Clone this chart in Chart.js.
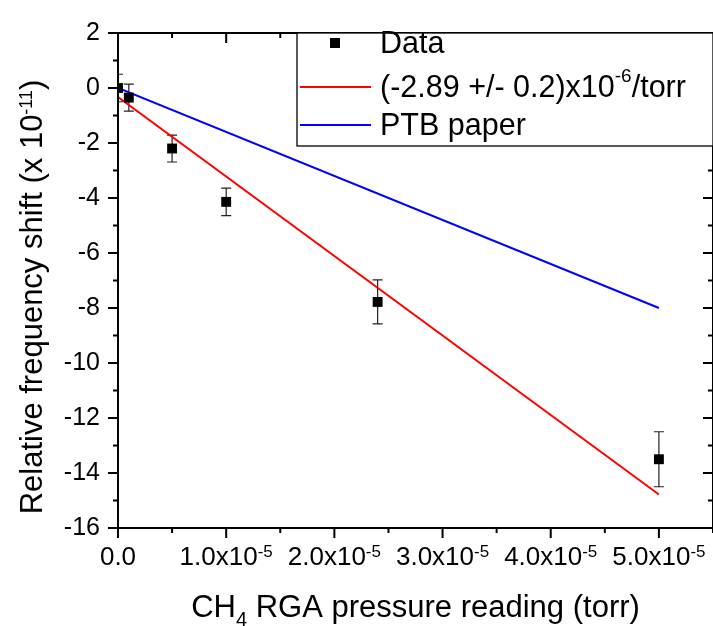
<!DOCTYPE html>
<html>
<head>
<meta charset="utf-8">
<script src="https://cdn.jsdelivr.net/npm/chart.js@4.4.1/dist/chart.umd.min.js"></script>
<style>
  html, body { margin: 0; padding: 0; background: #fff; overflow: hidden; }
  #wrap { width: 720px; height: 626px; }
</style>
</head>
<body>
<div id="wrap"><canvas id="grafico" width="720" height="626"></canvas></div>
<script>
// measured points (shift in units of 1e-11)
var pressure = [0, 1e-6, 5e-6, 1e-5, 2.4e-5, 5e-5];
var shift = [0, -0.35, -2.2, -4.14, -7.78, -13.5];
var shiftErr = [0.5, 0.49, 0.49, 0.5, 0.8, 1.0];

// linear fit and PTB line
var fitX = [0, 5e-5];
var fitY = [-0.33, -14.78];
var ptbX = [0, 5e-5];
var ptbY = [0, -8];

var xTickValues = [0, 1e-5, 2e-5, 3e-5, 4e-5, 5e-5];
var xTickText = ['0.0', '1.0x10', '2.0x10', '3.0x10', '4.0x10', '5.0x10'];
var xTickExp = ['', '-5', '-5', '-5', '-5', '-5'];

var legendLabels = ['Data', '(-2.89 +/- 0.2)x10', 'PTB paper'];
var legendExp = ['', '-6', ''];
var legendTail = ['', '/torr', ''];

var FONT = '"Liberation Sans", Arial, sans-serif';

function pontos(xs, ys) {
  var p = [];
  for (var i = 0; i < xs.length; i++) p.push({x: xs[i], y: ys[i]});
  return p;
}

// text with a raised (or lowered) small part
function textoComExpoente(ctx, base, exp, tail, x, y, size, expSize, rise, align) {
  ctx.font = size + 'px ' + FONT;
  var w1 = ctx.measureText(base).width;
  var w3 = tail ? ctx.measureText(tail).width : 0;
  ctx.font = expSize + 'px ' + FONT;
  var w2 = exp ? ctx.measureText(exp).width : 0;
  var total = w1 + w2 + w3;
  var x0 = align === 'center' ? x - total / 2 : x;
  ctx.textAlign = 'left';
  ctx.textBaseline = 'alphabetic';
  ctx.font = size + 'px ' + FONT;
  ctx.fillText(base, x0, y);
  if (exp) {
    ctx.font = expSize + 'px ' + FONT;
    ctx.fillText(exp, x0 + w1, y - rise);
  }
  if (tail) {
    ctx.font = size + 'px ' + FONT;
    ctx.fillText(tail, x0 + w1 + w2, y);
  }
}

var errorBars = {
  id: 'errorBars',
  beforeDatasetsDraw: function(chart) {
    var ctx = chart.ctx, xs = chart.scales.x, ys = chart.scales.y, a = chart.chartArea;
    ctx.save();
    ctx.beginPath();
    ctx.rect(a.left, a.top, a.right - a.left, a.bottom - a.top);
    ctx.clip();
    ctx.strokeStyle = '#222';
    ctx.lineWidth = 1.2;
    for (var i = 0; i < pressure.length; i++) {
      var px = xs.getPixelForValue(pressure[i]);
      var top = ys.getPixelForValue(shift[i] + shiftErr[i]);
      var bot = ys.getPixelForValue(shift[i] - shiftErr[i]);
      ctx.beginPath();
      ctx.moveTo(px, top); ctx.lineTo(px, bot);
      ctx.moveTo(px - 5, top); ctx.lineTo(px + 5, top);
      ctx.moveTo(px - 5, bot); ctx.lineTo(px + 5, bot);
      ctx.stroke();
    }
    ctx.restore();
  }
};

var moldura = {
  id: 'moldura',
  afterDraw: function(chart) {
    var ctx = chart.ctx, xs = chart.scales.x, ys = chart.scales.y, a = chart.chartArea;
    ctx.save();
    ctx.strokeStyle = '#000';
    ctx.fillStyle = '#000';
    ctx.lineWidth = 2;
    ctx.strokeRect(a.left, a.top, a.right - a.left, a.bottom - a.top);

    // y ticks: major every 2, minor every 1
    ctx.beginPath();
    for (var v = -16; v <= 2; v++) {
      var py = ys.getPixelForValue(v);
      var len = (v % 2 === 0) ? 10 : 5;
      ctx.moveTo(a.left - len, py); ctx.lineTo(a.left, py);
      ctx.moveTo(a.right, py); ctx.lineTo(a.right - len, py);
    }
    // x ticks: major every 1e-5, minor every 0.5e-5
    for (var k = 0; k <= 11; k++) {
      var px = xs.getPixelForValue(k * 0.5e-5);
      var l = (k % 2 === 0) ? 10 : 5;
      ctx.moveTo(px, a.bottom); ctx.lineTo(px, a.bottom + l);
      ctx.moveTo(px, a.top); ctx.lineTo(px, a.top + l);
    }
    ctx.stroke();

    // x tick labels
    for (var i = 0; i < xTickValues.length; i++) {
      textoComExpoente(ctx, xTickText[i], xTickExp[i], '', xs.getPixelForValue(xTickValues[i]), 565, 26, 17, 8, 'center');
    }

    // axis titles
    ctx.font = '31px ' + FONT;
    var t1 = 'CH', t2 = ' RGA pressure reading (torr)';
    var w1 = ctx.measureText(t1).width, w3 = ctx.measureText(t2).width;
    ctx.font = '20px ' + FONT;
    var w2 = ctx.measureText('4').width;
    var cx = (a.left + a.right) / 2 - (w1 + w2 + w3) / 2;
    ctx.textAlign = 'left';
    ctx.font = '31px ' + FONT;
    ctx.fillText(t1, cx, 617);
    ctx.font = '20px ' + FONT;
    ctx.fillText('4', cx + w1, 626);
    ctx.font = '31px ' + FONT;
    ctx.fillText(t2, cx + w1 + w2, 617);

    ctx.save();
    ctx.translate(42, 297);
    ctx.rotate(-Math.PI / 2);
    textoComExpoente(ctx, 'Relative frequency shift (x 10', '-11', ')', 0, 0, 31, 18, 10, 'center');
    ctx.restore();

    // legend box
    var lx = 297, ly = a.top, lb = 146;
    ctx.fillStyle = '#fff';
    ctx.fillRect(lx, ly, a.right - lx, lb - ly);
    ctx.lineWidth = 1.3;
    ctx.strokeStyle = '#000';
    ctx.strokeRect(lx, ly, a.right - lx, lb - ly);
    ctx.fillStyle = '#000';
    var rows = [43, 87, 125];
    var ds = chart.data.datasets;
    for (var j = 0; j < rows.length; j++) {
      if (j === 0) {
        ctx.fillStyle = ds[0].backgroundColor;
        ctx.fillRect(330, rows[j] - 5, 10, 10);
      } else {
        ctx.strokeStyle = ds[j].borderColor;
        ctx.lineWidth = 2;
        ctx.beginPath();
        ctx.moveTo(300, rows[j]); ctx.lineTo(371, rows[j]);
        ctx.stroke();
      }
      ctx.fillStyle = '#000';
      textoComExpoente(ctx, legendLabels[j], legendExp[j], legendTail[j], 380, rows[j] + 10, 30.5, 19, 15, 'left');
    }
    ctx.restore();
  }
};

var grafico = new Chart(document.getElementById('grafico'), {
  type: 'scatter',
  data: {
    datasets: [{
      label: 'Data',
      data: pontos(pressure, shift),
      showLine: false,
      pointStyle: 'rect',
      pointRadius: 7,
      backgroundColor: '#000',
      borderColor: '#000',
      borderWidth: 0
    }, {
      label: '(-2.89 +/- 0.2)x10-6/torr',
      data: pontos(fitX, fitY),
      showLine: true,
      pointRadius: 0,
      borderColor: '#ff0000',
      borderWidth: 2
    }, {
      label: 'PTB paper',
      data: pontos(ptbX, ptbY),
      showLine: true,
      pointRadius: 0,
      borderColor: '#0000ff',
      borderWidth: 2
    }]
  },
  options: {
    responsive: false,
    animation: false,
    devicePixelRatio: 1,
    layout: { padding: { left: 0, top: 19, right: 3, bottom: 0 } },
    plugins: { legend: { display: false }, tooltip: { enabled: false } },
    scales: {
      x: {
        type: 'linear', min: 0, max: 5.5e-5,
        grid: { display: false, drawTicks: false },
        border: { display: false },
        ticks: { display: false },
        afterFit: function(s) { s.height = 98; }
      },
      y: {
        type: 'linear', min: -16, max: 2,
        grid: { display: false, drawTicks: false },
        border: { display: false },
        ticks: { stepSize: 2, padding: 18, color: '#000', font: { family: FONT, size: 25 } },
        afterFit: function(s) { s.width = 118; }
      }
    }
  },
  plugins: [errorBars, moldura]
});
</script>
</body>
</html>
